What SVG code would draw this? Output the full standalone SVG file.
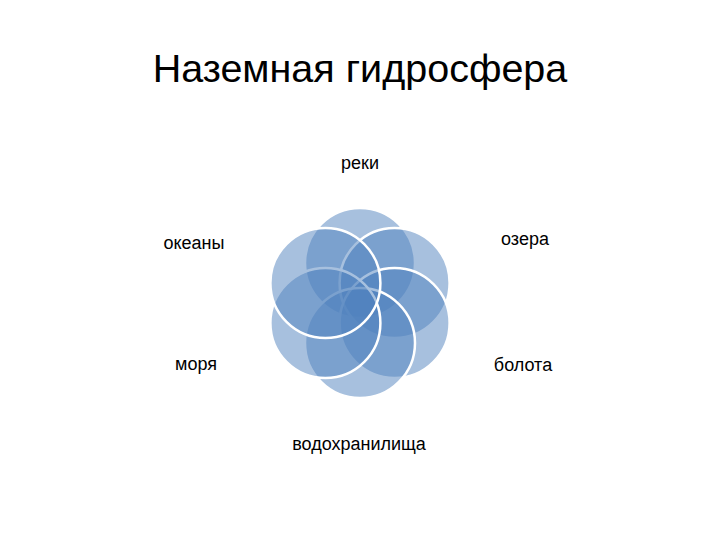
<svg xmlns="http://www.w3.org/2000/svg" width="720" height="540" viewBox="0 0 720 540">
<style>
.t{font-family:"Liberation Sans",Arial,sans-serif;fill:#000;text-anchor:middle}
.lbl{font-size:18px}
.ring{fill:#4F81BD;fill-opacity:0.5;stroke:#fff;stroke-width:2.5}
</style>
<rect width="720" height="540" fill="#fff"/>
<text class="t" x="360" y="82" font-size="39.5">Наземная гидросфера</text>
<g id="connectors"/>
<g id="n-reki"><circle class="ring" cx="360" cy="263" r="55"/><text class="t lbl" x="360" y="169">реки</text></g>
<g id="n-ozera"><circle class="ring" cx="394.6" cy="283" r="55"/><text class="t lbl" x="525" y="245">озера</text></g>
<g id="n-bolota"><circle class="ring" cx="394.6" cy="323" r="55"/><text class="t lbl" x="523" y="371">болота</text></g>
<g id="n-vodokhr"><circle class="ring" cx="360" cy="343" r="55"/><text class="t lbl" x="359" y="450">водохранилища</text></g>
<g id="n-morya"><circle class="ring" cx="325.4" cy="323" r="55"/><text class="t lbl" x="196" y="370">моря</text></g>
<g id="n-okeany"><circle class="ring" cx="325.4" cy="283" r="55"/><text class="t lbl" x="194" y="249">океаны</text></g>
</svg>
